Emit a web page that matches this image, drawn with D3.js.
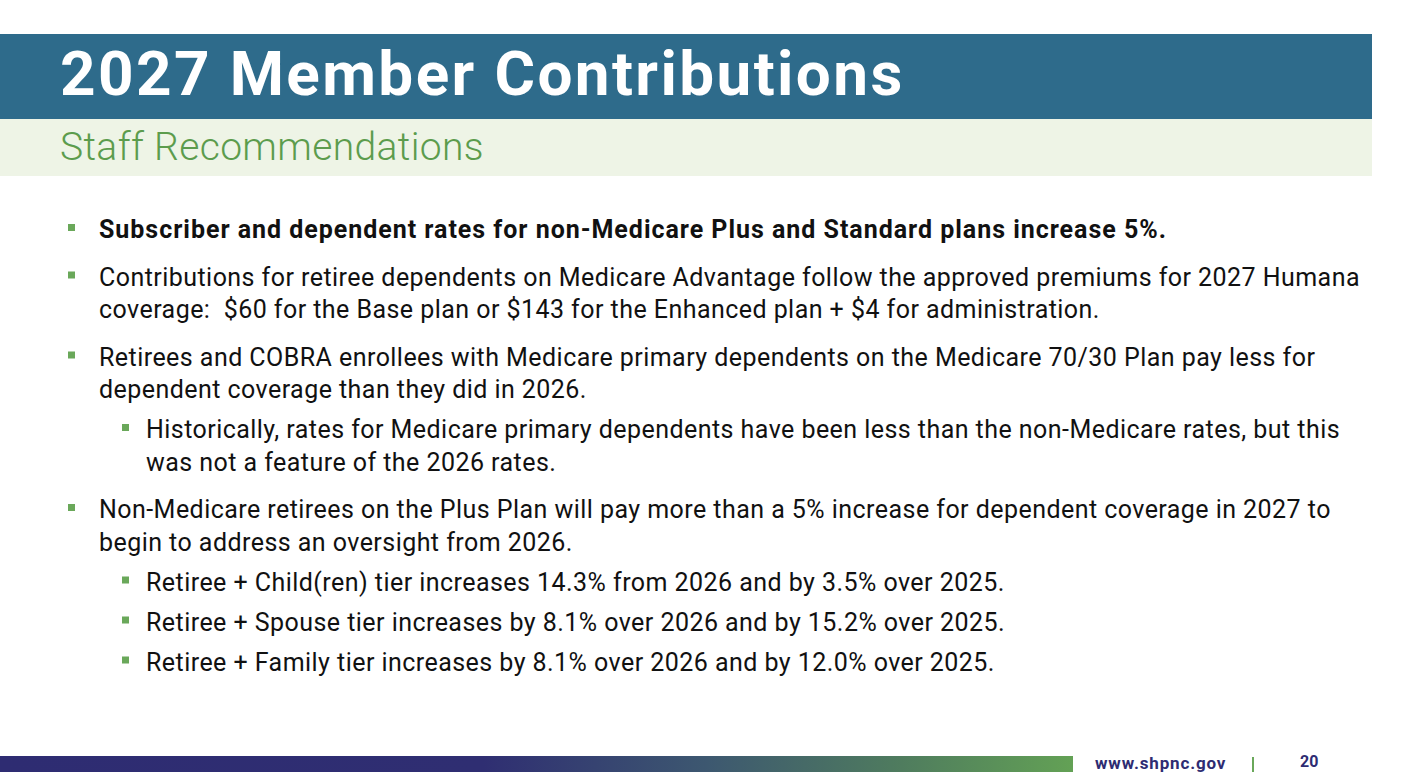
<!DOCTYPE html>
<html>
<head>
<meta charset="utf-8">
<script src="https://cdn.jsdelivr.net/npm/d3@7"></script>
<style>
  html, body { margin: 0; padding: 0; background: #fff; }
  svg { display: block; }
  text { white-space: pre; }
</style>
</head>
<body>
<div id="container"></div>
<script>
"use strict";

var titleText = "2027 Member Contributions";
var subtitleText = "Staff Recommendations";

// one entry per bullet: indent level, bold flag, wrapped lines
var bulletLevels = [1, 1, 1, 2, 1, 2, 2, 2];
var bulletBold = [true, false, false, false, false, false, false, false];
var bulletLines = [
    ["Subscriber and dependent rates for non-Medicare Plus and Standard plans increase 5%."],
    ["Contributions for retiree dependents on Medicare Advantage follow the approved premiums for 2027 Humana",
     "coverage:  $60 for the Base plan or $143 for the Enhanced plan + $4 for administration."],
    ["Retirees and COBRA enrollees with Medicare primary dependents on the Medicare 70/30 Plan pay less for",
     "dependent coverage than they did in 2026."],
    ["Historically, rates for Medicare primary dependents have been less than the non-Medicare rates, but this",
     "was not a feature of the 2026 rates."],
    ["Non-Medicare retirees on the Plus Plan will pay more than a 5% increase for dependent coverage in 2027 to",
     "begin to address an oversight from 2026."],
    ["Retiree + Child(ren) tier increases 14.3% from 2026 and by 3.5% over 2025."],
    ["Retiree + Spouse tier increases by 8.1% over 2026 and by 15.2% over 2025."],
    ["Retiree + Family tier increases by 8.1% over 2026 and by 12.0% over 2025."]
];

var footerUrl = "www.shpnc.gov";
var pageNumber = "20";

var width = 1425;
var height = 772;

var svg = d3.select("#container").append("svg")
    .attr("width", width).attr("height", height);

var defs = svg.append("defs");
var grad = defs.append("linearGradient").attr("id", "footer-grad")
    .attr("x1", "0%").attr("x2", "100%").attr("y1", "0%").attr("y2", "0%");
grad.append("stop").attr("offset", "0%").attr("stop-color", "#2e2c72");
grad.append("stop").attr("offset", "45%").attr("stop-color", "#2f2e72");
grad.append("stop").attr("offset", "66%").attr("stop-color", "#3d5870");
grad.append("stop").attr("offset", "84%").attr("stop-color", "#4f7c5e");
grad.append("stop").attr("offset", "100%").attr("stop-color", "#63a155");

// header bands
svg.append("rect").attr("x", 0).attr("y", 34).attr("width", 1372).attr("height", 85)
    .attr("fill", "#2e6b8b");
svg.append("rect").attr("x", 0).attr("y", 119).attr("width", 1372).attr("height", 57)
    .attr("fill", "#eef4e6");

svg.append("text").attr("x", 60).attr("y", 95)
    .attr("font-family", "Roboto, sans-serif").attr("font-weight", 700)
    .attr("font-size", 62).attr("letter-spacing", 2.4).attr("fill", "#ffffff")
    .text(titleText);

svg.append("text").attr("x", 60).attr("y", 160)
    .attr("font-family", "Roboto, sans-serif").attr("font-weight", 300)
    .attr("font-size", 39).attr("letter-spacing", 0.35).attr("fill", "#5c9c4d")
    .text(subtitleText);

// bullets
var lineGap = 32.5;
var indent = { 1: { bullet: 68, text: 99 }, 2: { bullet: 122, text: 146 } };
var y = 238;
var body = svg.append("g").attr("class", "body");

bulletLines.forEach(function (lines, i) {
    var lvl = bulletLevels[i];
    if (i > 0) {
        y += lvl === 1 ? 47.5 : 40;
    }
    var g = body.append("g").attr("class", "bullet");
    g.append("rect")
        .attr("x", indent[lvl].bullet).attr("y", y - 14)
        .attr("width", 7).attr("height", 7)
        .attr("fill", "#6aa85a");
    lines.forEach(function (line, j) {
        if (j > 0) y += lineGap;
        g.append("text")
            .attr("x", indent[lvl].text).attr("y", y)
            .attr("font-family", "Roboto, sans-serif")
            .attr("font-weight", bulletBold[i] ? 700 : 400)
            .attr("font-size", 25)
            .attr("letter-spacing", bulletBold[i] ? 0.97 : 0.45)
            .attr("fill", "#111111")
            .text(line);
    });
});

// footer
svg.append("rect").attr("x", 0).attr("y", 756).attr("width", 1073).attr("height", 16)
    .attr("fill", "url(#footer-grad)");
svg.append("text").attr("x", 1095).attr("y", 769)
    .attr("font-family", "Roboto, sans-serif").attr("font-weight", 700)
    .attr("font-size", 17).attr("letter-spacing", 0.85).attr("fill", "#2e2c72")
    .text(footerUrl);
svg.append("rect").attr("x", 1252).attr("y", 757).attr("width", 2).attr("height", 15)
    .attr("fill", "#6aa85a");
svg.append("text").attr("x", 1300).attr("y", 767)
    .attr("font-family", "Roboto, sans-serif").attr("font-weight", 700)
    .attr("font-size", 16).attr("fill", "#2e2c72")
    .text(pageNumber);
</script>
</body>
</html>
